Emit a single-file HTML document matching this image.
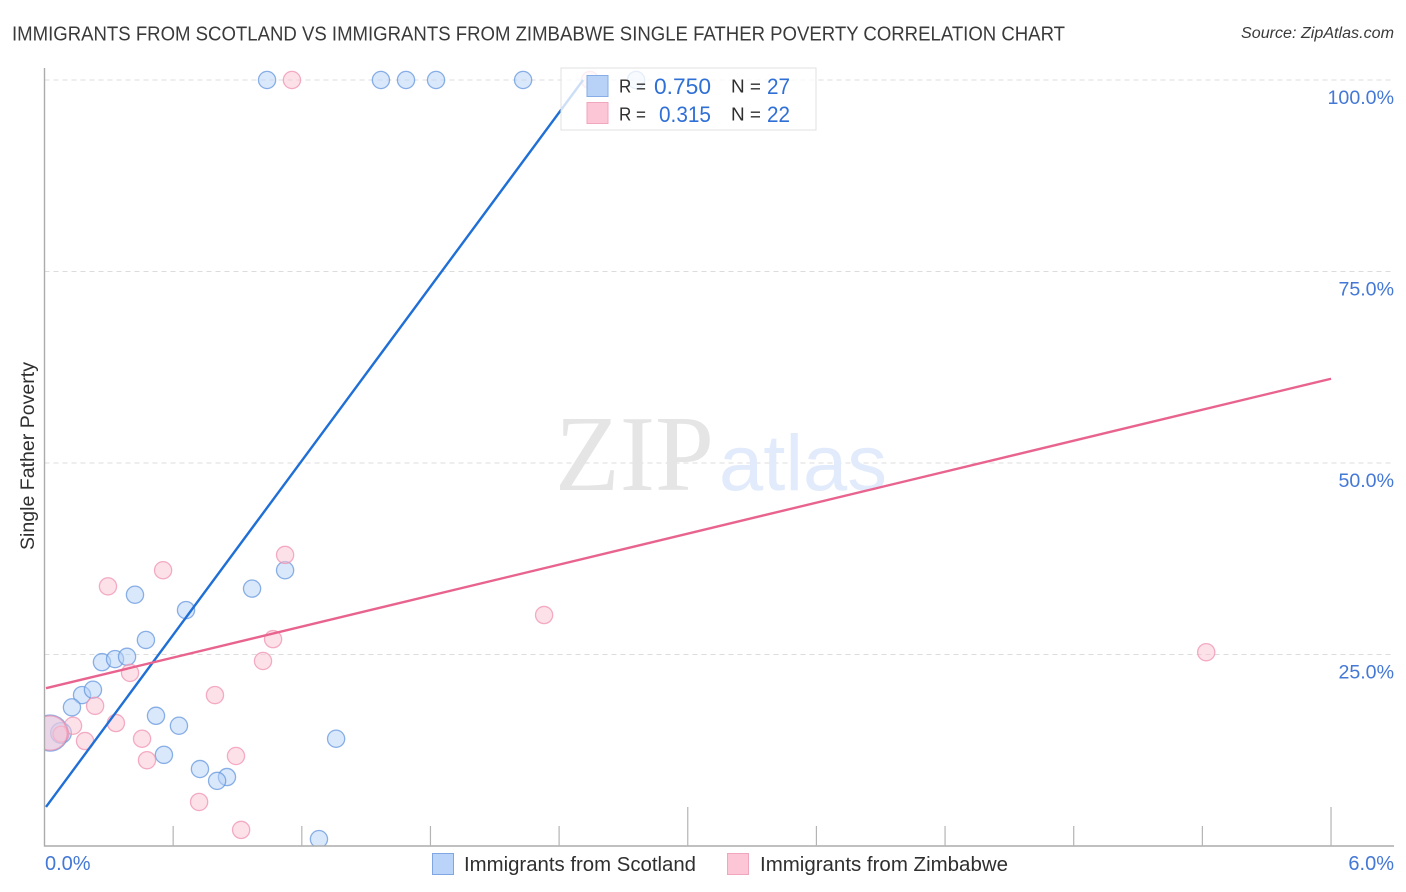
<!DOCTYPE html>
<html lang="en">
<head>
<meta charset="utf-8">
<title>Immigrants from Scotland vs Immigrants from Zimbabwe Single Father Poverty Correlation Chart</title>
<style>
html,body{margin:0;padding:0;background:#fff;}
svg{display:block;font-family:"Liberation Sans",sans-serif;}
</style>
</head>
<body>
<svg id="chart" xmlns="http://www.w3.org/2000/svg" width="1406" height="892" viewBox="0 0 1406 892">
  <defs>
    <clipPath id="plot-clip"><rect x="44.5" y="60" width="1350" height="786"></rect></clipPath>
    <linearGradient id="trend-fade" gradientUnits="userSpaceOnUse" x1="555" y1="118" x2="583" y2="80">
      <stop offset="0" stop-color="#ffffff" stop-opacity="0"></stop>
      <stop offset="1" stop-color="#ffffff" stop-opacity="0.45"></stop>
    </linearGradient>
  </defs>
  <rect x="0" y="0" width="1406" height="892" fill="#ffffff"></rect>
  <text x="12" y="40.5" font-size="20" fill="#3a3a3a" textLength="1053" lengthAdjust="spacingAndGlyphs">IMMIGRANTS FROM SCOTLAND VS IMMIGRANTS FROM ZIMBABWE SINGLE FATHER POVERTY CORRELATION CHART</text>
  <text x="1241" y="38" font-size="15.5" font-style="italic" fill="#3a3a3a" textLength="153" lengthAdjust="spacingAndGlyphs">Source: ZipAtlas.com</text>

  <g id="grid"></g>

  <g>
    <text x="555" y="490" font-family="'Liberation Serif',serif" font-size="108" fill="#e5e5e5" textLength="159" lengthAdjust="spacingAndGlyphs">ZIP</text>
    <text x="719" y="490" font-size="79" fill="#e1ebfb" textLength="168" lengthAdjust="spacingAndGlyphs">atlas</text>
  </g>

  <g id="points-scotland" clip-path="url(#plot-clip)"></g>
  <g id="points-zimbabwe" clip-path="url(#plot-clip)"></g>
  <rect x="20" y="700" width="24.5" height="70" fill="#ffffff"></rect>
  <g id="axes"></g>
  <g id="trends"></g>
  <g id="tick-labels"></g>

  <text transform="translate(34 550) rotate(-90)" font-size="19" fill="#2f2f2f" textLength="188" lengthAdjust="spacingAndGlyphs">Single Father Poverty</text>

  <g>
    <rect x="561" y="68" width="255" height="62" fill="#ffffff" fill-opacity="0.78" stroke="#e0e0e0" stroke-width="1"></rect>
    <rect x="587" y="75.5" width="21" height="21" fill="#b0cdf6" fill-opacity="0.9" stroke="#86ade6" stroke-width="1"></rect>
    <rect x="587" y="102.5" width="21" height="21" fill="#fcc6d6" stroke="#f0a6bd" stroke-width="1"></rect>
    <text x="619" y="92.5" font-size="18.5" fill="#2f2f2f" textLength="27" lengthAdjust="spacingAndGlyphs">R =</text>
    <text x="654" y="94" font-size="22" fill="#2f6fd6" textLength="57" lengthAdjust="spacingAndGlyphs">0.750</text>
    <text x="731" y="92.5" font-size="18.5" fill="#2f2f2f" textLength="30" lengthAdjust="spacingAndGlyphs">N =</text>
    <text x="767" y="94" font-size="22" fill="#2f6fd6" textLength="23" lengthAdjust="spacingAndGlyphs">27</text>
    <text x="619" y="120.5" font-size="18.5" fill="#2f2f2f" textLength="27" lengthAdjust="spacingAndGlyphs">R =</text>
    <text x="659" y="122" font-size="22" fill="#2f6fd6" textLength="52" lengthAdjust="spacingAndGlyphs">0.315</text>
    <text x="731" y="120.5" font-size="18.5" fill="#2f2f2f" textLength="30" lengthAdjust="spacingAndGlyphs">N =</text>
    <text x="767" y="122" font-size="22" fill="#2f6fd6" textLength="23" lengthAdjust="spacingAndGlyphs">22</text>
  </g>

  <g>
    <rect x="432.5" y="853.5" width="21" height="21" fill="#b9d4f8" stroke="#7fa6e0" stroke-width="1"></rect>
    <text x="464" y="871" font-size="20" fill="#2f2f2f" textLength="232" lengthAdjust="spacingAndGlyphs">Immigrants from Scotland</text>
    <rect x="727.5" y="853.5" width="21" height="21" fill="#fcc6d6" stroke="#f0a6bd" stroke-width="1"></rect>
    <text x="760" y="871" font-size="20" fill="#2f2f2f" textLength="248" lengthAdjust="spacingAndGlyphs">Immigrants from Zimbabwe</text>
  </g>
</svg>
<script>
const scotlandX = [1.038,1.569,1.686,1.826,2.232,2.759,0.422,0.660,0.473,0.968,1.122,0.268,0.329,0.385,0.175,0.226,0.128,0.520,0.627,1.360,0.557,0.725,0.851,0.805,1.280,0.077,0.026];
const scotlandY = [100,100,100,100,100,100,32.8,30.8,26.9,33.6,36.0,24.0,24.4,24.7,19.7,20.4,18.1,17.0,15.7,14.0,11.9,10.05,9.0,8.5,0.9,14.75,14.75];
const scotlandWeight = [1,1,1,1,1,1,1,1,1,1,1,1,1,1,1,1,1,1,1,1,1,1,1,1,1,1.45,4.4];
const zimbabweX = [1.154,2.544,0.296,0.553,1.122,1.066,1.019,0.399,0.795,0.236,0.333,0.133,0.189,0.455,0.478,0.893,0.721,0.917,2.330,5.418,0.077,0.026];
const zimbabweY = [100,100,33.9,36.0,38.0,27.0,24.15,22.6,19.7,18.3,16.05,15.7,13.7,14.0,11.2,11.75,5.75,2.1,30.15,25.3,14.6,14.75];
const zimbabweWeight = [1,1,1,1,1,1,1,1,1,1,1,1,1,1,1,1,1,1,1,1,0.85,4];
const scotlandTrendX = [0.007,2.512];
const scotlandTrendY = [5.1,100];
const zimbabweTrendX = [0.007,6];
const zimbabweTrendY = [20.6,61.0];
const yTicks = [25,50,75,100];
const yTickLabels = ["25.0%","50.0%","75.0%","100.0%"];
const xTicks = [0,0.6,1.2,1.8,2.4,3,3.6,4.2,4.8,5.4,6];
const xEndTicks = [0,6];
const xEndLabels = ["0.0%","6.0%"];

const NS = 'http://www.w3.org/2000/svg';
const xScale = v => 44.5 + v * 214.42;
const yScale = v => 846 - v * 7.66;
const rScale = w => 8.6 * Math.sqrt(w);

function make(tag, parent, attrs, text) {
  const el = document.createElementNS(NS, tag);
  Object.keys(attrs).forEach(k => el.setAttribute(k, attrs[k]));
  if (text !== undefined) el.textContent = text;
  parent.appendChild(el);
  return el;
}

const gridG = document.getElementById('grid');
yTicks.forEach(t => {
  const el = make('line', gridG, {x1: 44.5, x2: 1394, y1: yScale(t), y2: yScale(t), stroke: '#dcdcdc', 'stroke-width': 1, 'stroke-dasharray': '5 4'});
  
  
});

const axesG = document.getElementById('axes');
const yAxis = make('line', axesG, {x1: 44.5, x2: 44.5, y1: 68, y2: 846.5, stroke: '#ababab', 'stroke-width': 1.4});


const xAxis = make('line', axesG, {x1: 44, x2: 1394, y1: 846, y2: 846, stroke: '#ababab', 'stroke-width': 1.4});


xTicks.forEach((t, i) => {
  if (i === 0) return;
  const major = i === 5 || i === 10;
  const el = make('line', axesG, {x1: xScale(t), x2: xScale(t), y1: major ? 807 : 826, y2: 846, stroke: '#b4b4b4', 'stroke-width': 1.2});
  
  
});

function drawPoints(groupId, xs, ys, ws, fill, stroke, name) {
  const g = document.getElementById(groupId);
  xs.forEach((x, i) => {
    const el = make('circle', g, {cx: xScale(x), cy: yScale(ys[i]), r: rScale(ws[i]), fill: fill, 'fill-opacity': 0.5, stroke: stroke, 'stroke-opacity': 0.72, 'stroke-width': 1.3});
    
    
  });
}
drawPoints('points-scotland', scotlandX, scotlandY, scotlandWeight, '#b5d1f7', '#5f93dc', 'scotland-point');
drawPoints('points-zimbabwe', zimbabweX, zimbabweY, zimbabweWeight, '#fbc3d4', '#ee8fae', 'zimbabwe-point');

const trendG = document.getElementById('trends');
const trendA = make('line', trendG, {x1: xScale(scotlandTrendX[0]), y1: yScale(scotlandTrendY[0]), x2: xScale(scotlandTrendX[1]), y2: yScale(scotlandTrendY[1]), stroke: '#1f6fd6', 'stroke-width': 2.4});


const trendB = make('line', trendG, {x1: xScale(zimbabweTrendX[0]), y1: yScale(zimbabweTrendY[0]), x2: xScale(zimbabweTrendX[1]), y2: yScale(zimbabweTrendY[1]), stroke: '#e8648f', 'stroke-width': 2.4});



const labelG = document.getElementById('tick-labels');
yTicks.forEach((t, i) => {
  const el = make('text', labelG, {x: 1394, y: yScale(t) + 24, 'text-anchor': 'end', 'font-size': 19.6, fill: '#4478d6'}, yTickLabels[i]);
  
  
});
xEndTicks.forEach((t, i) => {
  const el = make('text', labelG, {x: i === 0 ? 45 : 1394, y: 870, 'text-anchor': i === 0 ? 'start' : 'end', 'font-size': 20, fill: '#4478d6'}, xEndLabels[i]);
  
  
});
</script>
</body>
</html>
